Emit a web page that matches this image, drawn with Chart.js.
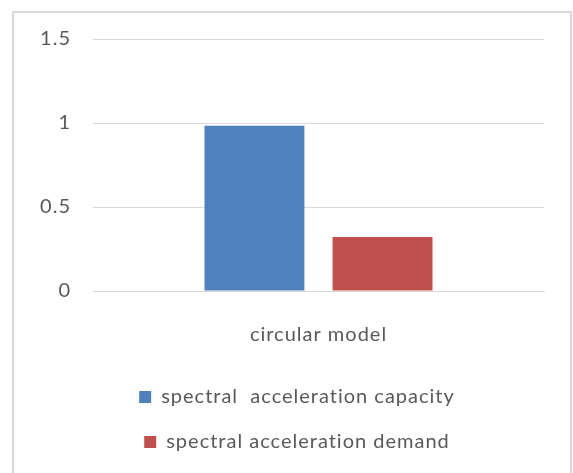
<!DOCTYPE html>
<html>
<head>
<meta charset="utf-8">
<script src="https://cdn.jsdelivr.net/npm/chart.js@4.4.1/dist/chart.umd.min.js"></script>
<style>
  html, body { margin: 0; padding: 0; background: #fff; }
  #frame {
    position: absolute; left: 12px; top: 11px; width: 560px; height: 480px;
    border: 2px solid #d9d9d9; box-sizing: border-box;
  }
  #wrap { position: absolute; left: 0; top: 0; width: 573px; height: 473px; }
</style>
</head>
<body>
<div id="frame"></div>
<div id="wrap"><canvas id="chart"></canvas></div>
<script>
// valeurs du graphique
const categories = ['circular model'];
const seriesNames = ['spectral  acceleration capacity', 'spectral acceleration demand'];
const capacity = [0.984];
const demand = [0.321];
const yTicks = [0, 0.5, 1, 1.5];

const textColor = '#595959';
const fontFamily = 'Lato, "Open Sans", sans-serif';

// espacement des lettres (le redimensionnement du canvas le remet à zéro)
const letterSpacingPlugin = {
    id: 'letterSpacing',
    beforeUpdate: (chart) => { chart.ctx.letterSpacing = '1px'; },
    beforeDraw: (chart) => { chart.ctx.letterSpacing = '1px'; }
};

// décale la légende un peu vers la droite
const legendShift = {
    id: 'legendShift',
    afterLayout: (chart) => { chart.legend.left += 32; }
};

const ctx = document.getElementById('chart').getContext('2d');

const chart = new Chart(ctx, {
    type: 'bar',
    data: {
        labels: categories,
        datasets: [{
            label: seriesNames[0],
            data: capacity,
            backgroundColor: '#4f81bd',
            categoryPercentage: 0.568,
            barPercentage: 0.78
        }, {
            label: seriesNames[1],
            data: demand,
            backgroundColor: '#c0504d',
            categoryPercentage: 0.568,
            barPercentage: 0.78
        }]
    },
    options: {
        responsive: true,
        maintainAspectRatio: false,
        animation: false,
        layout: {
            padding: { left: 18, right: 29, top: 39, bottom: 11 }
        },
        scales: {
            x: {
                afterFit: (scale) => { scale.height = 71; },
                grid: { display: false, drawTicks: false },
                border: { color: '#d9d9d9', width: 1 },
                ticks: {
                    color: textColor,
                    padding: 32,
                    font: { family: fontFamily, size: 20 }
                }
            },
            y: {
                min: 0,
                max: 1.5,
                afterFit: (scale) => { scale.width = 75; },
                afterBuildTicks: (scale) => {
                    scale.ticks = yTicks.map(v => ({ value: v }));
                },
                grid: { color: '#d9d9d9', lineWidth: 1, drawTicks: false },
                border: { display: false },
                ticks: {
                    color: textColor,
                    padding: 22,
                    font: { family: fontFamily, size: 20 },
                    callback: (value) => String(value)
                }
            }
        },
        plugins: {
            legend: {
                position: 'bottom',
                labels: {
                    color: textColor,
                    boxWidth: 12,
                    boxHeight: 12,
                    padding: 25,
                    font: { family: fontFamily, size: 20 }
                }
            },
            tooltip: { enabled: false }
        }
    },
    plugins: [letterSpacingPlugin, legendShift]
});
</script>
</body>
</html>
